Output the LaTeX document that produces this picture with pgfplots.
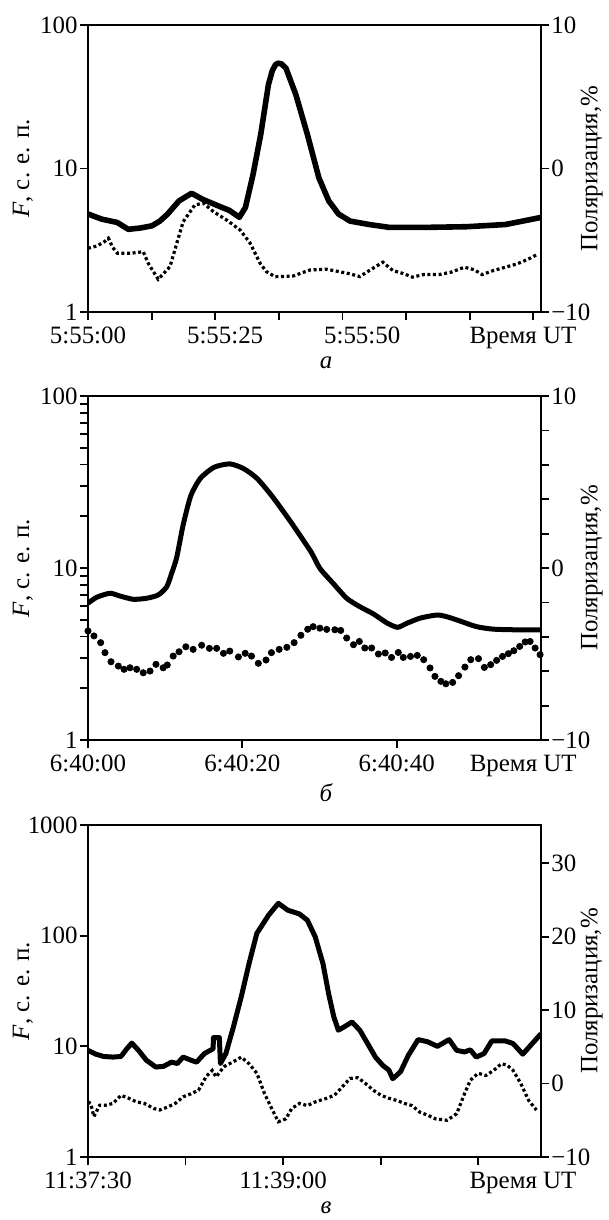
\documentclass[border=0pt]{standalone}
\usepackage{fontspec}
\setmainfont{Liberation Serif}
\usepackage{pgfplots}
\pgfplotsset{compat=1.18}
\newcommand\fs{\fontsize{12.5}{15}\selectfont}

\pgfplotsset{
  panel/.style={
    scale only axis, width=226.5bp, xmin=0,
    axis line style={line width=0.9bp},
    tick style={black, line width=0.9bp},
    tick align=outside,
    major tick length=4bp, minor tick length=3.5bp,
    tick label style={font=\fs},
    label style={font=\fs},
  },
  leftax/.style={panel, tick pos=left,
    yticklabel style={inner xsep=1bp},
    extra x tick style={major tick length=4bp, tick style={draw=none}},
    ylabel={\textit{F}, с. е. п.},
    ylabel style={at={(axis description cs:-0.1435,0.5)}, anchor=center},
  },
  rightax/.style={panel, axis y line*=right, axis x line=none,
    yticklabel style={inner xsep=1bp},
    ylabel={Поляризация,\%},
    ylabel style={at={(axis description cs:1.112,0.5)}, anchor=center},
  },
  flux/.style={black, line width=2.6bp, line join=round},
  pol/.style={black, line width=1.6bp, dash pattern=on 1.5bp off 1.3bp},
}

\begin{document}
\begin{tikzpicture}
\useasboundingbox (0,0) rectangle (304.5bp,-610bp);

% ---------- panel a ----------
\begin{axis}[ymode=log, leftax, at={(44bp,-156bp)}, anchor=south west,
  height=143.5bp, xmax=82.6, ymin=1, ymax=100,
  ytick={1,10,100}, yticklabels={1,10,100}, yminorticks=false,
  xtick={0,11.6,23.2,34.8,46.4,58,69.6,81.2},
  xticklabels={,,,,,,,},
  extra x ticks={0,25,50,79.3},
  extra x tick labels={5:55:00,5:55:25,5:55:50,Время UT}]
\addplot[flux, line width=2.8bp] coordinates {
(0,4.82)(2.48,4.44)(5.31,4.21)(7.35,3.77)(9.56,3.85)(11.68,3.99)(13.1,4.3)
(14.5,4.81)(16.6,5.95)(18.9,6.72)(20.9,6.1)(23.7,5.5)(25.8,5.1)(27.6,4.57)
(28.7,5.35)(30.1,9.1)(31.5,17.3)(32.9,38.4)(33.6,48)(34.2,53)(34.7,54.2)
(35.3,53.5)(36.1,50)(37.9,32.7)(40.0,17.3)(42.1,8.6)(43.9,5.95)(45.7,4.81)
(47.8,4.3)(51.3,4.07)(54.9,3.89)(61.9,3.89)(69.0,3.93)(76.1,4.07)(82.6,4.56)};
\end{axis}
\begin{axis}[rightax, at={(44bp,-156bp)}, anchor=south west,
  height=143.5bp, xmax=82.6, ymin=-10, ymax=10,
  ytick={-10,0,10}, yticklabels={−10,0,10}]
\addplot[pol] coordinates {
(0,-5.56)(1.65,-5.4)(3.0,-5.1)(3.72,-4.86)(4.5,-5.5)(5.37,-5.91)(7.68,-5.91)
(10.08,-5.8)(10.99,-6.61)(12.8,-7.72)(14.95,-6.84)(16.19,-5.21)(17.35,-3.71)
(19.49,-2.54)(21.06,-2.42)(22.88,-3.01)(25.28,-3.59)(27.75,-4.29)(29.57,-5.21)
(31.39,-6.61)(32.54,-7.19)(34.11,-7.54)(37.42,-7.49)(40.47,-7.07)(43.53,-7.02)
(46.34,-7.23)(47.74,-7.34)(49.56,-7.53)(51.29,-7.11)(53.77,-6.53)(55.59,-7.11)
(57.65,-7.34)(59.14,-7.57)(61.21,-7.39)(64.02,-7.39)(66.16,-7.23)(68.64,-6.88)
(70.46,-7.06)(71.86,-7.39)(73.93,-7.11)(76.07,-6.88)(78.22,-6.65)(80.37,-6.30)
(82.1,-5.95)};
\end{axis}
\node[font=\fs\itshape] at (163bp,-181.5bp) {а};

% ---------- panel b ----------
\begin{axis}[ymode=log, leftax, at={(44bp,-370bp)}, anchor=south west,
  height=172bp, xmax=58.7, ymin=1, ymax=100, yminorticks=false,
  ytick={1,2,3,4,5,6,7,8,9,10,20,30,40,50,60,70,80,90,100},
  yticklabels={1,,,,,,,,,10,,,,,,,,,100},
  xtick={0,20,40}, xticklabels={,,},
  extra x ticks={0,20,40,56.4},
  extra x tick labels={6:40:00,6:40:20,6:40:40,Время UT}]
\addplot[flux, line width=2.5bp, smooth, tension=0.4] coordinates {
(0,6.24)(1.13,6.76)(2.85,7.13)(4.15,6.87)(5.87,6.58)(7.6,6.67)(9.1,6.97)
(10.2,7.78)(10.84,9.31)(11.49,11.5)(12.33,17.8)(13.32,26.3)(14.56,33.2)
(16.32,38.5)(18.37,40.3)(20.13,37.9)(21.9,33.2)(23.9,26.0)(26.4,18.2)
(28.9,12.4)(30.05,9.95)(31.76,8.15)(33.52,6.67)(35.22,5.96)(36.98,5.41)
(38.68,4.81)(40.09,4.52)(41.27,4.76)(43.03,5.11)(45.2,5.33)(46.49,5.21)
(48.19,4.92)(50.36,4.56)(52.54,4.41)(55.77,4.37)(58.7,4.37)};
\end{axis}
\begin{axis}[rightax, at={(44bp,-370bp)}, anchor=south west,
  height=172bp, xmax=58.7, ymin=-10, ymax=10,
  ytick={-10,-8,...,10}, yticklabels={−10,,,,,0,,,,,10}]
\addplot[black, only marks, mark=*, mark size=1.55bp] coordinates {
(0,-3.66)(0.77,-3.95)(1.64,-4.34)(2.2,-4.92)(2.98,-5.45)(3.93,-5.7)(4.67,-5.89)
(5.44,-5.8)(6.31,-5.89)(7.16,-6.09)(8.04,-5.99)(8.81,-5.6)(9.74,-5.8)
(10.27,-5.64)(11.04,-5.12)(11.8,-4.87)(12.68,-4.58)(13.62,-4.73)(14.73,-4.49)
(15.73,-4.67)(16.67,-4.67)(17.55,-4.96)(18.37,-4.83)(19.49,-5.17)(20.37,-4.96)
(21.19,-5.12)(22.07,-5.54)(23.07,-5.35)(23.77,-4.92)(24.77,-4.73)(25.77,-4.61)
(26.71,-4.34)(27.59,-3.91)(28.47,-3.56)(29.17,-3.41)(30.05,-3.5)(30.93,-3.57)
(31.99,-3.59)(32.75,-3.63)(33.52,-4.07)(34.4,-4.46)(35.16,-4.27)(35.87,-4.65)
(36.75,-4.65)(37.63,-5.0)(38.51,-4.94)(39.33,-5.2)(40.21,-4.91)(40.86,-5.2)
(41.79,-5.14)(42.67,-5.08)(43.5,-5.33)(44.32,-5.81)(44.96,-6.3)(45.73,-6.59)
(46.37,-6.73)(47.25,-6.65)(48.02,-6.26)(48.84,-5.76)(49.6,-5.33)(50.6,-5.27)
(51.36,-5.78)(52.18,-5.62)(52.95,-5.37)(53.71,-5.14)(54.47,-4.98)(55.18,-4.81)
(55.94,-4.56)(56.65,-4.3)(57.29,-4.27)(57.94,-4.65)(58.58,-5.04)};
\end{axis}
\node[font=\fs\itshape] at (163bp,-396.5bp) {б};

% ---------- panel c ----------
\begin{axis}[ymode=log, leftax, at={(44bp,-578.5bp)}, anchor=south west,
  height=166bp, xmax=209, ymin=1, ymax=1000,
  ytick={1,10,100,1000}, yticklabels={1,10,100,1000}, yminorticks=false,
  xtick={0,45,90,135,180}, xticklabels={,,,,},
  extra x ticks={0,90,200.7},
  extra x tick labels={11:37:30,11:39:00,Время UT}]
\addplot[flux, line width=2.5bp] coordinates {
(0,9.2)(3.6,8.5)(7.2,8.1)(11.6,8.0)(15.2,8.1)(17.9,9.5)(20.2,10.7)(23.3,9.2)
(26.9,7.5)(31.3,6.5)(34.9,6.6)(38.5,7.2)(41.2,7.0)(43.9,8.0)(47.5,7.5)(50.1,7.2)
(53.7,8.6)(56.4,9.2)(57.7,9.5)(57.9,12)(60.6,12)(61.1,7.0)(63.6,8.6)(67.1,15)
(70.7,28)(74.3,56)(77.9,105)(83.3,153)(87.8,196)(92.2,170)(97.6,157)(101.2,138)
(104.8,98)(108.4,56)(111.0,30)(113.4,18.5)(115.5,14)(118.2,15)(121.8,16.6)
(125.4,14)(129.0,10.6)(132.6,8.0)(136.1,6.7)(138.8,6.1)(140.6,5.1)(144.2,5.9)
(147.8,8.3)(152.3,11.5)(156.7,11)(161.2,10)(166.6,11.5)(170.1,9.2)(173.7,8.9)
(176.4,9.3)(179.1,8.0)(182.7,8.6)(186.3,11.2)(192.5,11.2)(196.1,10.6)(200.6,8.5)
(204.2,10.2)(209,13)};
\end{axis}
\begin{axis}[rightax, at={(44bp,-578.5bp)}, anchor=south west,
  height=166bp, xmax=209, ymin=-10, ymax=35.2,
  ytick={-10,0,10,20,30}, yticklabels={−10,0,10,20,30}]
\addplot[pol] coordinates {
(0,-2.5)(1.25,-2.7)(2.7,-4.5)(5.4,-2.95)(8.1,-2.95)(11.6,-2.7)(15.2,-1.6)
(18.8,-2.0)(22.4,-2.5)(26.0,-2.7)(30.4,-3.4)(33.1,-3.6)(36.7,-3.2)(40.3,-2.7)
(43.9,-1.8)(47.5,-1.4)(51.0,-0.9)(54.6,1.0)(57.3,1.8)(59.1,0.9)(62.7,2.3)
(67.2,3.0)(70.7,3.6)(74.3,2.7)(77.9,1.4)(81.5,-1.4)(85.1,-3.6)(87.8,-5.2)
(91.3,-4.8)(94.0,-3.4)(97.6,-2.7)(101.2,-3.0)(104.8,-2.5)(110.1,-2.0)
(113.7,-1.6)(117.3,-0.45)(120.9,0.7)(124.5,0.8)(128.1,0.0)(131.6,-0.9)
(135.2,-1.6)(138.8,-2.0)(142.4,-2.3)(146.0,-2.7)(149.5,-3.0)(153.1,-3.9)
(156.7,-4.3)(160.3,-4.8)(165.7,-5.0)(170.1,-4.1)(173.7,-1.4)(176.4,0.45)
(180.0,1.4)(183.6,1.1)(187.2,1.8)(190.7,2.7)(193.4,2.5)(196.1,1.8)(199.7,0.0)
(203.3,-2.3)(206.9,-3.6)};
\end{axis}
\node[font=\fs\itshape] at (163bp,-604bp) {в};
\end{tikzpicture}
\end{document}
